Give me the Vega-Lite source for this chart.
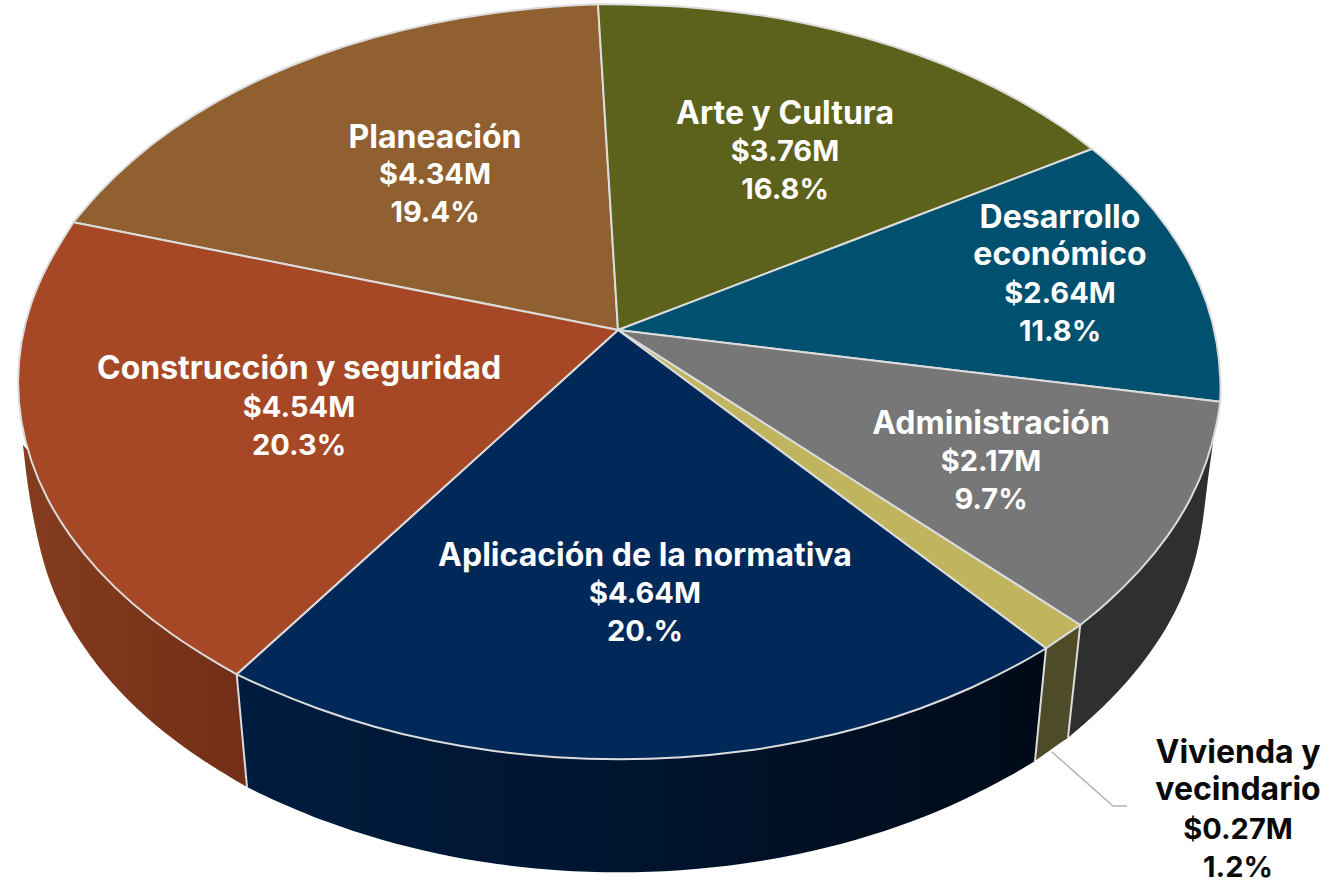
{"$schema":"https://vega.github.io/schema/vega-lite/v6.json","width":1330,"height":882,"padding":0,"autosize":{"type":"none"},"background":"white","view":{"stroke":null},
"datasets":{
"top":[
{"sector":"Planeación","orden":0,"x":618,"y":330},{"sector":"Planeación","orden":0.3,"x":618,"y":330},{"sector":"Planeación","orden":0.6,"x":618,"y":330},{"sector":"Planeación","orden":1,"x":73.4,"y":222.3},{"sector":"Planeación","orden":1.3,"x":73.4,"y":222.3},{"sector":"Planeación","orden":1.6,"x":73.4,"y":222.3},{"sector":"Planeación","orden":2,"x":97.7,"y":193},{"sector":"Planeación","orden":3,"x":132,"y":159.8},{"sector":"Planeación","orden":4,"x":171.6,"y":129.1},{"sector":"Planeación","orden":5,"x":216.2,"y":101.1},{"sector":"Planeación","orden":6,"x":265.1,"y":76.2},{"sector":"Planeación","orden":7,"x":318,"y":54.7},{"sector":"Planeación","orden":8,"x":374.2,"y":36.7},{"sector":"Planeación","orden":9,"x":433,"y":22.5},{"sector":"Planeación","orden":10,"x":493.8,"y":12.3},{"sector":"Planeación","orden":11,"x":556.1,"y":6.1},{"sector":"Planeación","orden":12,"x":598,"y":4.2},{"sector":"Planeación","orden":12.3,"x":598,"y":4.2},{"sector":"Planeación","orden":12.6,"x":598,"y":4.2},{"sector":"Planeación","orden":13,"x":618,"y":330},{"sector":"Planeación","orden":13.3,"x":618,"y":330},{"sector":"Planeación","orden":13.6,"x":618,"y":330},
{"sector":"Arte y Cultura","orden":0,"x":618,"y":330},{"sector":"Arte y Cultura","orden":0.3,"x":618,"y":330},{"sector":"Arte y Cultura","orden":0.6,"x":618,"y":330},{"sector":"Arte y Cultura","orden":1,"x":598,"y":4.2},{"sector":"Arte y Cultura","orden":1.3,"x":598,"y":4.2},{"sector":"Arte y Cultura","orden":1.6,"x":598,"y":4.2},{"sector":"Arte y Cultura","orden":2,"x":619,"y":4},{"sector":"Arte y Cultura","orden":3,"x":681.9,"y":6.1},{"sector":"Arte y Cultura","orden":4,"x":744.2,"y":12.3},{"sector":"Arte y Cultura","orden":5,"x":805,"y":22.5},{"sector":"Arte y Cultura","orden":6,"x":863.8,"y":36.7},{"sector":"Arte y Cultura","orden":7,"x":920,"y":54.7},{"sector":"Arte y Cultura","orden":8,"x":972.9,"y":76.2},{"sector":"Arte y Cultura","orden":9,"x":1021.8,"y":101.1},{"sector":"Arte y Cultura","orden":10,"x":1066.4,"y":129.1},{"sector":"Arte y Cultura","orden":11,"x":1092,"y":149},{"sector":"Arte y Cultura","orden":11.3,"x":1092,"y":149},{"sector":"Arte y Cultura","orden":11.6,"x":1092,"y":149},{"sector":"Arte y Cultura","orden":12,"x":618,"y":330},{"sector":"Arte y Cultura","orden":12.3,"x":618,"y":330},{"sector":"Arte y Cultura","orden":12.6,"x":618,"y":330},
{"sector":"Desarrollo económico","orden":0,"x":618,"y":330},{"sector":"Desarrollo económico","orden":0.3,"x":618,"y":330},{"sector":"Desarrollo económico","orden":0.6,"x":618,"y":330},{"sector":"Desarrollo económico","orden":1,"x":1092,"y":149},{"sector":"Desarrollo económico","orden":1.3,"x":1092,"y":149},{"sector":"Desarrollo económico","orden":1.6,"x":1092,"y":149},{"sector":"Desarrollo económico","orden":2,"x":1106,"y":159.8},{"sector":"Desarrollo económico","orden":3,"x":1140.3,"y":193},{"sector":"Desarrollo económico","orden":4,"x":1168.9,"y":228.3},{"sector":"Desarrollo económico","orden":5,"x":1191.6,"y":265.2},{"sector":"Desarrollo económico","orden":6,"x":1207.8,"y":303.4},{"sector":"Desarrollo económico","orden":7,"x":1217.7,"y":342.5},{"sector":"Desarrollo económico","orden":8,"x":1221,"y":382},{"sector":"Desarrollo económico","orden":9,"x":1220.2,"y":401.8},{"sector":"Desarrollo económico","orden":9.3,"x":1220.2,"y":401.8},{"sector":"Desarrollo económico","orden":9.6,"x":1220.2,"y":401.8},{"sector":"Desarrollo económico","orden":10,"x":618,"y":330},{"sector":"Desarrollo económico","orden":10.3,"x":618,"y":330},{"sector":"Desarrollo económico","orden":10.6,"x":618,"y":330},
{"sector":"Administración","orden":0,"x":618,"y":330},{"sector":"Administración","orden":0.3,"x":618,"y":330},{"sector":"Administración","orden":0.6,"x":618,"y":330},{"sector":"Administración","orden":1,"x":1220.2,"y":401.8},{"sector":"Administración","orden":1.3,"x":1220.2,"y":401.8},{"sector":"Administración","orden":1.6,"x":1220.2,"y":401.8},{"sector":"Administración","orden":2,"x":1217.7,"y":421.5},{"sector":"Administración","orden":3,"x":1207.8,"y":460.6},{"sector":"Administración","orden":4,"x":1191.6,"y":498.8},{"sector":"Administración","orden":5,"x":1168.9,"y":535.7},{"sector":"Administración","orden":6,"x":1140.3,"y":571},{"sector":"Administración","orden":7,"x":1106,"y":604.2},{"sector":"Administración","orden":8,"x":1080.2,"y":625},{"sector":"Administración","orden":8.3,"x":1080.2,"y":625},{"sector":"Administración","orden":8.6,"x":1080.2,"y":625},{"sector":"Administración","orden":9,"x":618,"y":330},{"sector":"Administración","orden":9.3,"x":618,"y":330},{"sector":"Administración","orden":9.6,"x":618,"y":330},
{"sector":"Vivienda y vecindario","orden":0,"x":618,"y":330},{"sector":"Vivienda y vecindario","orden":0.3,"x":618,"y":330},{"sector":"Vivienda y vecindario","orden":0.6,"x":618,"y":330},{"sector":"Vivienda y vecindario","orden":1,"x":1080.2,"y":625},{"sector":"Vivienda y vecindario","orden":1.3,"x":1080.2,"y":625},{"sector":"Vivienda y vecindario","orden":1.6,"x":1080.2,"y":625},{"sector":"Vivienda y vecindario","orden":3,"x":1046,"y":648.3},{"sector":"Vivienda y vecindario","orden":3.3,"x":1046,"y":648.3},{"sector":"Vivienda y vecindario","orden":3.6,"x":1046,"y":648.3},{"sector":"Vivienda y vecindario","orden":4,"x":618,"y":330},{"sector":"Vivienda y vecindario","orden":4.3,"x":618,"y":330},{"sector":"Vivienda y vecindario","orden":4.6,"x":618,"y":330},
{"sector":"Aplicación de la normativa","orden":0,"x":618,"y":330},{"sector":"Aplicación de la normativa","orden":0.3,"x":618,"y":330},{"sector":"Aplicación de la normativa","orden":0.6,"x":618,"y":330},{"sector":"Aplicación de la normativa","orden":1,"x":1046,"y":648.3},{"sector":"Aplicación de la normativa","orden":1.3,"x":1046,"y":648.3},{"sector":"Aplicación de la normativa","orden":1.6,"x":1046,"y":648.3},{"sector":"Aplicación de la normativa","orden":2,"x":1021.8,"y":662.9},{"sector":"Aplicación de la normativa","orden":3,"x":972.9,"y":687.8},{"sector":"Aplicación de la normativa","orden":4,"x":920,"y":709.3},{"sector":"Aplicación de la normativa","orden":5,"x":863.8,"y":727.3},{"sector":"Aplicación de la normativa","orden":6,"x":805,"y":741.5},{"sector":"Aplicación de la normativa","orden":7,"x":744.2,"y":751.7},{"sector":"Aplicación de la normativa","orden":8,"x":681.9,"y":757.9},{"sector":"Aplicación de la normativa","orden":9,"x":619,"y":760},{"sector":"Aplicación de la normativa","orden":10,"x":556.1,"y":757.9},{"sector":"Aplicación de la normativa","orden":11,"x":493.8,"y":751.7},{"sector":"Aplicación de la normativa","orden":12,"x":433,"y":741.5},{"sector":"Aplicación de la normativa","orden":13,"x":374.2,"y":727.3},{"sector":"Aplicación de la normativa","orden":14,"x":318,"y":709.3},{"sector":"Aplicación de la normativa","orden":15,"x":265.1,"y":687.8},{"sector":"Aplicación de la normativa","orden":16,"x":236.7,"y":674.3},{"sector":"Aplicación de la normativa","orden":16.3,"x":236.7,"y":674.3},{"sector":"Aplicación de la normativa","orden":16.6,"x":236.7,"y":674.3},{"sector":"Aplicación de la normativa","orden":17,"x":618,"y":330},{"sector":"Aplicación de la normativa","orden":17.3,"x":618,"y":330},{"sector":"Aplicación de la normativa","orden":17.6,"x":618,"y":330},
{"sector":"Construcción y seguridad","orden":0,"x":618,"y":330},{"sector":"Construcción y seguridad","orden":0.3,"x":618,"y":330},{"sector":"Construcción y seguridad","orden":0.6,"x":618,"y":330},{"sector":"Construcción y seguridad","orden":1,"x":236.7,"y":674.3},{"sector":"Construcción y seguridad","orden":1.3,"x":236.7,"y":674.3},{"sector":"Construcción y seguridad","orden":1.6,"x":236.7,"y":674.3},{"sector":"Construcción y seguridad","orden":2,"x":216.2,"y":662.9},{"sector":"Construcción y seguridad","orden":3,"x":171.6,"y":634.9},{"sector":"Construcción y seguridad","orden":4,"x":132,"y":604.2},{"sector":"Construcción y seguridad","orden":5,"x":97.7,"y":571},{"sector":"Construcción y seguridad","orden":6,"x":69.1,"y":535.7},{"sector":"Construcción y seguridad","orden":7,"x":46.4,"y":498.8},{"sector":"Construcción y seguridad","orden":8,"x":30.2,"y":460.6},{"sector":"Construcción y seguridad","orden":9,"x":20.3,"y":421.5},{"sector":"Construcción y seguridad","orden":10,"x":17,"y":382},{"sector":"Construcción y seguridad","orden":11,"x":20.3,"y":342.5},{"sector":"Construcción y seguridad","orden":12,"x":30.2,"y":303.4},{"sector":"Construcción y seguridad","orden":13,"x":46.4,"y":265.2},{"sector":"Construcción y seguridad","orden":14,"x":73.4,"y":222.3},{"sector":"Construcción y seguridad","orden":14.3,"x":73.4,"y":222.3},{"sector":"Construcción y seguridad","orden":14.6,"x":73.4,"y":222.3},{"sector":"Construcción y seguridad","orden":15,"x":618,"y":330},{"sector":"Construcción y seguridad","orden":15.3,"x":618,"y":330},{"sector":"Construcción y seguridad","orden":15.6,"x":618,"y":330}
],
"side":[
{"sector":"Administración","orden":0,"x":1080.2,"y":625},{"sector":"Administración","orden":0.3,"x":1080.2,"y":625},{"sector":"Administración","orden":0.6,"x":1080.2,"y":625},{"sector":"Administración","orden":1,"x":1213,"y":443},{"sector":"Administración","orden":1.3,"x":1213,"y":443},{"sector":"Administración","orden":1.6,"x":1213,"y":443},{"sector":"Administración","orden":2,"x":1207,"y":485},{"sector":"Administración","orden":3,"x":1201.8,"y":533.6},{"sector":"Administración","orden":4,"x":1192.1,"y":572.8},{"sector":"Administración","orden":5,"x":1176.4,"y":611.1},{"sector":"Administración","orden":6,"x":1154.3,"y":648.1},{"sector":"Administración","orden":7,"x":1126.4,"y":683.5},{"sector":"Administración","orden":8,"x":1093,"y":716.8},{"sector":"Administración","orden":9,"x":1068,"y":737.7},{"sector":"Administración","orden":9.3,"x":1068,"y":737.7},{"sector":"Administración","orden":9.6,"x":1068,"y":737.7},{"sector":"Administración","orden":10,"x":1080.2,"y":625},{"sector":"Administración","orden":10.3,"x":1080.2,"y":625},{"sector":"Administración","orden":10.6,"x":1080.2,"y":625},
{"sector":"Vivienda y vecindario","orden":0,"x":1080.2,"y":625},{"sector":"Vivienda y vecindario","orden":0.3,"x":1080.2,"y":625},{"sector":"Vivienda y vecindario","orden":0.6,"x":1080.2,"y":625},{"sector":"Vivienda y vecindario","orden":1,"x":1068,"y":737.7},{"sector":"Vivienda y vecindario","orden":1.3,"x":1068,"y":737.7},{"sector":"Vivienda y vecindario","orden":1.6,"x":1068,"y":737.7},{"sector":"Vivienda y vecindario","orden":3,"x":1035,"y":761},{"sector":"Vivienda y vecindario","orden":3.3,"x":1035,"y":761},{"sector":"Vivienda y vecindario","orden":3.6,"x":1035,"y":761},{"sector":"Vivienda y vecindario","orden":4,"x":1046,"y":648.3},{"sector":"Vivienda y vecindario","orden":4.3,"x":1046,"y":648.3},{"sector":"Vivienda y vecindario","orden":4.6,"x":1046,"y":648.3},{"sector":"Vivienda y vecindario","orden":5,"x":1080.2,"y":625},{"sector":"Vivienda y vecindario","orden":5.3,"x":1080.2,"y":625},{"sector":"Vivienda y vecindario","orden":5.6,"x":1080.2,"y":625},
{"sector":"Aplicación de la normativa","orden":0,"x":1046,"y":648.3},{"sector":"Aplicación de la normativa","orden":0.3,"x":1046,"y":648.3},{"sector":"Aplicación de la normativa","orden":0.6,"x":1046,"y":648.3},{"sector":"Aplicación de la normativa","orden":1,"x":1035,"y":761},{"sector":"Aplicación de la normativa","orden":1.3,"x":1035,"y":761},{"sector":"Aplicación de la normativa","orden":1.6,"x":1035,"y":761},{"sector":"Aplicación de la normativa","orden":2,"x":1011.1,"y":775.6},{"sector":"Aplicación de la normativa","orden":3,"x":963.5,"y":800.6},{"sector":"Aplicación de la normativa","orden":4,"x":912,"y":822.2},{"sector":"Aplicación de la normativa","orden":5,"x":857.3,"y":840.2},{"sector":"Aplicación de la normativa","orden":6,"x":800,"y":854.4},{"sector":"Aplicación de la normativa","orden":7,"x":740.9,"y":864.7},{"sector":"Aplicación de la normativa","orden":8,"x":680.2,"y":870.9},{"sector":"Aplicación de la normativa","orden":9,"x":619,"y":873},{"sector":"Aplicación de la normativa","orden":10,"x":557.8,"y":870.9},{"sector":"Aplicación de la normativa","orden":11,"x":497.1,"y":864.7},{"sector":"Aplicación de la normativa","orden":12,"x":438,"y":854.4},{"sector":"Aplicación de la normativa","orden":13,"x":380.7,"y":840.2},{"sector":"Aplicación de la normativa","orden":14,"x":326,"y":822.2},{"sector":"Aplicación de la normativa","orden":15,"x":274.5,"y":800.6},{"sector":"Aplicación de la normativa","orden":16,"x":247,"y":787},{"sector":"Aplicación de la normativa","orden":16.3,"x":247,"y":787},{"sector":"Aplicación de la normativa","orden":16.6,"x":247,"y":787},{"sector":"Aplicación de la normativa","orden":17,"x":236.7,"y":674.3},{"sector":"Aplicación de la normativa","orden":17.3,"x":236.7,"y":674.3},{"sector":"Aplicación de la normativa","orden":17.6,"x":236.7,"y":674.3},
{"sector":"Construcción y seguridad","orden":0,"x":236.7,"y":674.3},{"sector":"Construcción y seguridad","orden":0.3,"x":236.7,"y":674.3},{"sector":"Construcción y seguridad","orden":0.6,"x":236.7,"y":674.3},{"sector":"Construcción y seguridad","orden":1,"x":247,"y":787},{"sector":"Construcción y seguridad","orden":1.3,"x":247,"y":787},{"sector":"Construcción y seguridad","orden":1.6,"x":247,"y":787},{"sector":"Construcción y seguridad","orden":2,"x":226.9,"y":775.6},{"sector":"Construcción y seguridad","orden":3,"x":183.5,"y":747.6},{"sector":"Construcción y seguridad","orden":4,"x":145,"y":716.8},{"sector":"Construcción y seguridad","orden":5,"x":111.6,"y":683.5},{"sector":"Construcción y seguridad","orden":6,"x":83.7,"y":648.1},{"sector":"Construcción y seguridad","orden":7,"x":61.6,"y":611.1},{"sector":"Construcción y seguridad","orden":8,"x":45.9,"y":572.8},{"sector":"Construcción y seguridad","orden":9,"x":36.2,"y":533.6},{"sector":"Construcción y seguridad","orden":10,"x":28,"y":490},{"sector":"Construcción y seguridad","orden":11,"x":23,"y":445},{"sector":"Construcción y seguridad","orden":11.3,"x":23,"y":445},{"sector":"Construcción y seguridad","orden":11.6,"x":23,"y":445},{"sector":"Construcción y seguridad","orden":12,"x":236.7,"y":674.3},{"sector":"Construcción y seguridad","orden":12.3,"x":236.7,"y":674.3},{"sector":"Construcción y seguridad","orden":12.6,"x":236.7,"y":674.3}
],
"edges":[
{"borde":"a","orden":0,"x":1080.2,"y":625},{"borde":"a","orden":1,"x":1068,"y":737.7},
{"borde":"b","orden":0,"x":1046,"y":648.3},{"borde":"b","orden":1,"x":1035,"y":761},
{"borde":"c","orden":0,"x":236.7,"y":674.3},{"borde":"c","orden":1,"x":247,"y":787}
],
"leader":[{"orden":0,"x":1052,"y":752},{"orden":1,"x":1113,"y":806},{"orden":2,"x":1127,"y":806}],
"labels":[
{"sector":"Planeación","monto":4.34,"pct":19.4,"nombre":"Planeación","valores":"$4.34M\n19.4%","x":435,"y":138,"yv":175,"tinta":"w"},
{"sector":"Arte y Cultura","monto":3.76,"pct":16.8,"nombre":"Arte y Cultura","valores":"$3.76M\n16.8%","x":785,"y":114,"yv":152,"tinta":"w"},
{"sector":"Desarrollo económico","monto":2.64,"pct":11.8,"nombre":"Desarrollo\neconómico","valores":"$2.64M\n11.8%","x":1060,"y":218,"yv":294,"tinta":"w"},
{"sector":"Administración","monto":2.17,"pct":9.7,"nombre":"Administración","valores":"$2.17M\n9.7%","x":991,"y":424,"yv":462,"tinta":"w"},
{"sector":"Construcción y seguridad","monto":4.54,"pct":20.3,"nombre":"Construcción y seguridad","valores":"$4.54M\n20.3%","x":299,"y":369,"yv":408,"tinta":"w"},
{"sector":"Aplicación de la normativa","monto":4.64,"pct":20,"nombre":"Aplicación de la normativa","valores":"$4.64M\n20.%","x":645,"y":556,"yv":594,"tinta":"w"},
{"sector":"Vivienda y vecindario","monto":0.27,"pct":1.2,"nombre":"Vivienda y\nvecindario","valores":"$0.27M\n1.2%","x":1238,"y":753,"yv":830,"tinta":"k"}
]},
"encoding":{
"x":{"field":"x","type":"quantitative","axis":null,"scale":{"domain":[0,1330],"nice":false,"zero":false}},
"y":{"field":"y","type":"quantitative","axis":null,"scale":{"domain":[882,0],"nice":false,"zero":false}}
},
"layer":[
{"data":{"name":"side"},"transform":[{"filter":"datum.sector==='Administración'"}],"mark":{"type":"line","interpolate":"basis","fill":"#2f2f2f","stroke":null},"encoding":{"order":{"field":"orden","type":"quantitative"}}},
{"data":{"name":"side"},"transform":[{"filter":"datum.sector==='Vivienda y vecindario'"}],"mark":{"type":"line","interpolate":"basis","fill":"#4e4c28","stroke":null},"encoding":{"order":{"field":"orden","type":"quantitative"}}},
{"data":{"name":"side"},"transform":[{"filter":"datum.sector==='Aplicación de la normativa'"}],"mark":{"type":"line","interpolate":"basis","stroke":null,"fill":{"gradient":"linear","x1":0,"x2":1,"y1":0,"y2":0,"stops":[{"offset":0,"color":"#001c3e"},{"offset":0.5,"color":"#00142f"},{"offset":1,"color":"#000a18"}]}},"encoding":{"order":{"field":"orden","type":"quantitative"}}},
{"data":{"name":"side"},"transform":[{"filter":"datum.sector==='Construcción y seguridad'"}],"mark":{"type":"line","interpolate":"basis","stroke":null,"fill":{"gradient":"linear","x1":0,"x2":1,"y1":0,"y2":0,"stops":[{"offset":0,"color":"#853c1e"},{"offset":1,"color":"#722e17"}]}},"encoding":{"order":{"field":"orden","type":"quantitative"}}},
{"data":{"name":"edges"},"mark":{"type":"line","stroke":"#dcdcdc","strokeWidth":2},"encoding":{"detail":{"field":"borde"},"order":{"field":"orden","type":"quantitative"}}},
{"data":{"name":"top"},"mark":{"type":"line","interpolate":"basis","stroke":"#dcdcdc","strokeWidth":2,"strokeJoin":"round"},"encoding":{"detail":{"field":"sector"},"order":{"field":"orden","type":"quantitative"},"fill":{"field":"sector","type":"nominal","legend":null,"scale":{"domain":["Planeación","Arte y Cultura","Desarrollo económico","Administración","Vivienda y vecindario","Aplicación de la normativa","Construcción y seguridad"],"range":["#916030","#5c611b","#00506f","#777777","#c0b45e","#002858","#a64825"]}}}},
{"data":{"name":"leader"},"mark":{"type":"line","stroke":"#b3b3b3","strokeWidth":1.5},"encoding":{"order":{"field":"orden","type":"quantitative"}}},
{"data":{"name":"labels"},"mark":{"type":"text","font":"Inter","fontWeight":"bold","fontSize":32,"lineBreak":"\n","lineHeight":37,"align":"center","baseline":"middle"},"encoding":{"text":{"field":"nombre"},"fill":{"field":"tinta","type":"nominal","legend":null,"scale":{"domain":["w","k"],"range":["#ffffff","#0a0a0a"]}}}},
{"data":{"name":"labels"},"mark":{"type":"text","font":"Inter","fontWeight":"bold","fontSize":29,"lineBreak":"\n","lineHeight":38,"align":"center","baseline":"middle"},"encoding":{"y":{"field":"yv","type":"quantitative"},"text":{"field":"valores"},"fill":{"field":"tinta","type":"nominal","legend":null,"scale":{"domain":["w","k"],"range":["#ffffff","#0a0a0a"]}}}}
],
"resolve":{"scale":{"fill":"independent"}}}
